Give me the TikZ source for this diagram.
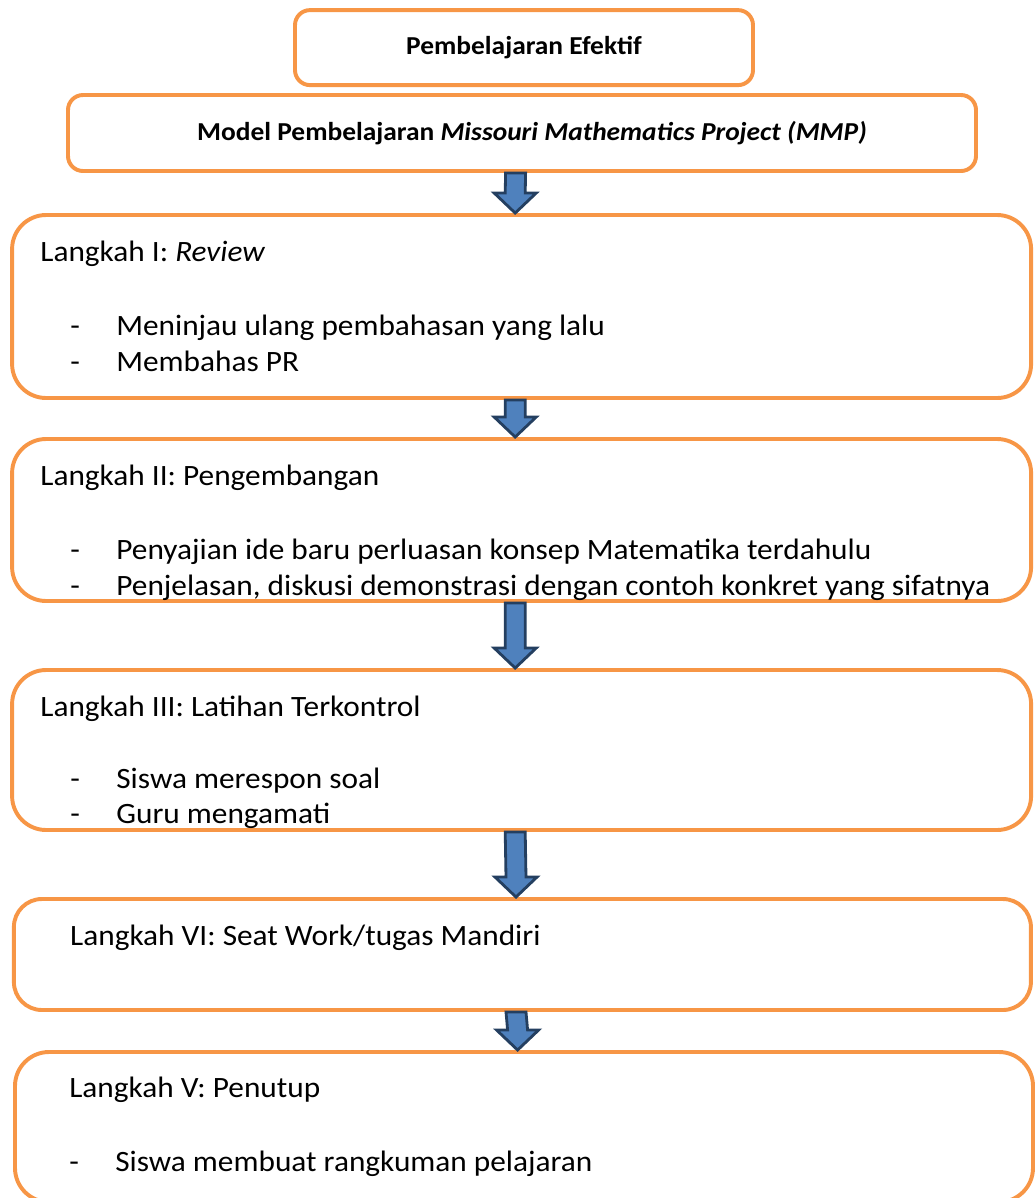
\documentclass[tikz,border=0pt]{standalone}
\usepackage{fontspec}
\setmainfont{Carlito}
\newfontfamily\widefont[FakeStretch=1.06]{Carlito}
\usetikzlibrary{calc}
\definecolor{boxorange}{HTML}{F79646}
\definecolor{arrowblue}{HTML}{4F81BD}
\definecolor{arrownavy}{HTML}{243F60}

% block arrow pointing down from one box to the next
\newcommand{\downblock}[2]{%
  \draw[blockarrow] ($(#1.south)+(-0.41,0)$) -- ($(#2.north)+(-0.41,0.5)$)
    -- ($(#2.north)+(-0.685,0.5)$) -- ($(#2.north)+(-0.16,0)$)
    -- ($(#2.north)+(0.365,0.5)$) -- ($(#2.north)+(0.09,0.5)$)
    -- ($(#1.south)+(0.09,0)$) -- cycle;}

\begin{document}
\begin{tikzpicture}[
    titlebox/.style={rectangle, draw=boxorange, line width=2.8pt, rounded corners=0.375cm,
      inner sep=0pt, align=center, font=\widefont\bfseries\fontsize{18.4}{21}\selectfont},
    stepbox/.style={rectangle, draw=boxorange, line width=2.8pt, rounded corners=0.85cm,
      inner sep=0pt, minimum width=25.475cm},
    steptext/.style={anchor=base west, inner sep=0pt, font=\widefont\fontsize{21}{25}\selectfont},
    blockarrow/.style={draw=arrownavy, fill=arrowblue, line width=2pt, line join=miter}]
  \useasboundingbox (0,0) rectangle (25.9,-29.95);

  \node[titlebox, minimum width=11.45cm, minimum height=1.875cm] (efektif) at (13.1,-1.19) {Pembelajaran Efektif};
  \node[titlebox, minimum width=22.7cm, minimum height=1.9cm] (model) at (13.05,-3.325)
    {\hspace{0.5cm}Model Pembelajaran \textit{Missouri Mathematics Project (MMP)}};

  \node[stepbox, minimum height=4.575cm] (review) at (13.04,-7.6625) {};
  \node[stepbox, minimum height=4.05cm] (kembang) at (13.04,-13.0) {};
  \node[stepbox, minimum height=4.0cm] (latihan) at (13.04,-18.75) {};
  \node[stepbox, minimum height=2.775cm, minimum width=25.425cm, rounded corners=0.7cm] (mandiri) at (13.06,-23.8625) {};
  \node[stepbox, minimum height=3.75cm, minimum width=25.45cm] (tutup) at (13.1,-28.175) {};

  % Langkah I
  \node[steptext] (review-t) at ($(review.north west)+(0.75,-1.2)$) {Langkah I: \textit{Review}};
  \node[steptext] (review-a) at ($(review.north west)+(1.5,-3.05)$) {\makebox[1.15cm][l]{-}Meninjau ulang pembahasan yang lalu};
  \node[steptext] (review-b) at ($(review.north west)+(1.5,-3.95)$) {\makebox[1.15cm][l]{-}Membahas PR};

  % Langkah II
  \node[steptext] (kembang-t) at ($(kembang.north west)+(0.75,-1.2)$) {Langkah II: Pengembangan};
  \node[steptext] (kembang-a) at ($(kembang.north west)+(1.5,-3.05)$) {\makebox[1.15cm][l]{-}Penyajian ide baru perluasan konsep Matematika terdahulu};
  \node[steptext] (kembang-b) at ($(kembang.north west)+(1.5,-3.95)$) {\makebox[1.15cm][l]{-}Penjelasan, diskusi demonstrasi dengan contoh konkret yang sifatnya};

  % Langkah III
  \node[steptext] (latihan-t) at ($(latihan.north west)+(0.75,-1.2)$) {Langkah III: Latihan Terkontrol};
  \node[steptext] (latihan-a) at ($(latihan.north west)+(1.5,-3.0)$) {\makebox[1.15cm][l]{-}Siswa merespon soal};
  \node[steptext] (latihan-b) at ($(latihan.north west)+(1.5,-3.88)$) {\makebox[1.15cm][l]{-}Guru mengamati};

  % Langkah VI
  \node[steptext] (mandiri-t) at ($(mandiri.north west)+(1.45,-1.2)$) {Langkah VI: Seat Work/tugas Mandiri};

  % Langkah V
  \node[steptext] (tutup-t) at ($(tutup.north west)+(1.4,-1.18)$) {Langkah V: Penutup};
  \node[steptext] (tutup-a) at ($(tutup.north west)+(1.4,-3.03)$) {\makebox[1.15cm][l]{-}Siswa membuat rangkuman pelajaran};

  \downblock{model}{review}
  \downblock{review}{kembang}
  \downblock{kembang}{latihan}
  \downblock{latihan}{mandiri}
  \downblock{mandiri}{tutup}
\end{tikzpicture}
\end{document}
